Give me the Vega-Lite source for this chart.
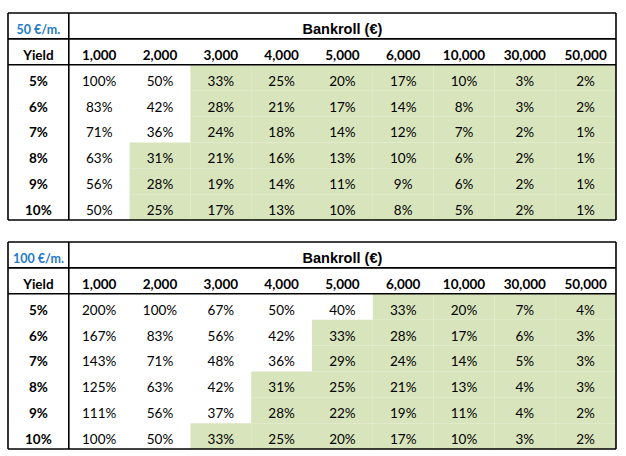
{
  "$schema": "https://vega.github.io/schema/vega-lite/v6.json",
  "padding": {"left": 7, "top": 12, "right": 0, "bottom": 0},
  "background": "#ffffff",
  "config": {"view": {"stroke": null}, "text": {"font": "Lato", "fontSize": 13.5, "color": "#000000"}},
  "spacing": 20,
  "datasets": {
    "t1": [
      {"y":"5%","b":"1,000","p":1.00},{"y":"5%","b":"2,000","p":0.50},{"y":"5%","b":"3,000","p":0.33},{"y":"5%","b":"4,000","p":0.25},{"y":"5%","b":"5,000","p":0.20},{"y":"5%","b":"6,000","p":0.17},{"y":"5%","b":"10,000","p":0.10},{"y":"5%","b":"30,000","p":0.03},{"y":"5%","b":"50,000","p":0.02},
      {"y":"6%","b":"1,000","p":0.83},{"y":"6%","b":"2,000","p":0.42},{"y":"6%","b":"3,000","p":0.28},{"y":"6%","b":"4,000","p":0.21},{"y":"6%","b":"5,000","p":0.17},{"y":"6%","b":"6,000","p":0.14},{"y":"6%","b":"10,000","p":0.08},{"y":"6%","b":"30,000","p":0.03},{"y":"6%","b":"50,000","p":0.02},
      {"y":"7%","b":"1,000","p":0.71},{"y":"7%","b":"2,000","p":0.36},{"y":"7%","b":"3,000","p":0.24},{"y":"7%","b":"4,000","p":0.18},{"y":"7%","b":"5,000","p":0.14},{"y":"7%","b":"6,000","p":0.12},{"y":"7%","b":"10,000","p":0.07},{"y":"7%","b":"30,000","p":0.02},{"y":"7%","b":"50,000","p":0.01},
      {"y":"8%","b":"1,000","p":0.63},{"y":"8%","b":"2,000","p":0.31},{"y":"8%","b":"3,000","p":0.21},{"y":"8%","b":"4,000","p":0.16},{"y":"8%","b":"5,000","p":0.13},{"y":"8%","b":"6,000","p":0.10},{"y":"8%","b":"10,000","p":0.06},{"y":"8%","b":"30,000","p":0.02},{"y":"8%","b":"50,000","p":0.01},
      {"y":"9%","b":"1,000","p":0.56},{"y":"9%","b":"2,000","p":0.28},{"y":"9%","b":"3,000","p":0.19},{"y":"9%","b":"4,000","p":0.14},{"y":"9%","b":"5,000","p":0.11},{"y":"9%","b":"6,000","p":0.09},{"y":"9%","b":"10,000","p":0.06},{"y":"9%","b":"30,000","p":0.02},{"y":"9%","b":"50,000","p":0.01},
      {"y":"10%","b":"1,000","p":0.50},{"y":"10%","b":"2,000","p":0.25},{"y":"10%","b":"3,000","p":0.17},{"y":"10%","b":"4,000","p":0.13},{"y":"10%","b":"5,000","p":0.10},{"y":"10%","b":"6,000","p":0.08},{"y":"10%","b":"10,000","p":0.05},{"y":"10%","b":"30,000","p":0.02},{"y":"10%","b":"50,000","p":0.01}
    ],
    "t2": [
      {"y":"5%","b":"1,000","p":2.00},{"y":"5%","b":"2,000","p":1.00},{"y":"5%","b":"3,000","p":0.67},{"y":"5%","b":"4,000","p":0.50},{"y":"5%","b":"5,000","p":0.40},{"y":"5%","b":"6,000","p":0.33},{"y":"5%","b":"10,000","p":0.20},{"y":"5%","b":"30,000","p":0.07},{"y":"5%","b":"50,000","p":0.04},
      {"y":"6%","b":"1,000","p":1.67},{"y":"6%","b":"2,000","p":0.83},{"y":"6%","b":"3,000","p":0.56},{"y":"6%","b":"4,000","p":0.42},{"y":"6%","b":"5,000","p":0.33},{"y":"6%","b":"6,000","p":0.28},{"y":"6%","b":"10,000","p":0.17},{"y":"6%","b":"30,000","p":0.06},{"y":"6%","b":"50,000","p":0.03},
      {"y":"7%","b":"1,000","p":1.43},{"y":"7%","b":"2,000","p":0.71},{"y":"7%","b":"3,000","p":0.48},{"y":"7%","b":"4,000","p":0.36},{"y":"7%","b":"5,000","p":0.29},{"y":"7%","b":"6,000","p":0.24},{"y":"7%","b":"10,000","p":0.14},{"y":"7%","b":"30,000","p":0.05},{"y":"7%","b":"50,000","p":0.03},
      {"y":"8%","b":"1,000","p":1.25},{"y":"8%","b":"2,000","p":0.63},{"y":"8%","b":"3,000","p":0.42},{"y":"8%","b":"4,000","p":0.31},{"y":"8%","b":"5,000","p":0.25},{"y":"8%","b":"6,000","p":0.21},{"y":"8%","b":"10,000","p":0.13},{"y":"8%","b":"30,000","p":0.04},{"y":"8%","b":"50,000","p":0.03},
      {"y":"9%","b":"1,000","p":1.11},{"y":"9%","b":"2,000","p":0.56},{"y":"9%","b":"3,000","p":0.37},{"y":"9%","b":"4,000","p":0.28},{"y":"9%","b":"5,000","p":0.22},{"y":"9%","b":"6,000","p":0.19},{"y":"9%","b":"10,000","p":0.11},{"y":"9%","b":"30,000","p":0.04},{"y":"9%","b":"50,000","p":0.02},
      {"y":"10%","b":"1,000","p":1.00},{"y":"10%","b":"2,000","p":0.50},{"y":"10%","b":"3,000","p":0.33},{"y":"10%","b":"4,000","p":0.25},{"y":"10%","b":"5,000","p":0.20},{"y":"10%","b":"6,000","p":0.17},{"y":"10%","b":"10,000","p":0.10},{"y":"10%","b":"30,000","p":0.03},{"y":"10%","b":"50,000","p":0.02}
    ],
    "hdr": [{"b":"Yield"},{"b":"1,000"},{"b":"2,000"},{"b":"3,000"},{"b":"4,000"},{"b":"5,000"},{"b":"6,000"},{"b":"10,000"},{"b":"30,000"},{"b":"50,000"}],
    "rows": [{"y":"5%"},{"y":"6%"},{"y":"7%"},{"y":"8%"},{"y":"9%"},{"y":"10%"}],
    "hl0": [{"y":"title"},{"y":"Yield"},{"y":"5%"}],
    "hl1": [{"y":"10%"}],
    "vl0": [{"b":"Yield"},{"b":"1,000"}],
    "vl1": [{"b":"50,000"}],
    "titles1": [{"b":"Yield","y":"title","t":"50 €/m."}],
    "titles2": [{"b":"Yield","y":"title","t":"100 €/m."}],
    "bank": [{"b":"5,000","y":"title","t":"Bankroll (€)"}]
  },
  "vconcat": [
    {
      "width": 608, "height": 207,
      "encoding": {
        "x": {"field": "b", "type": "ordinal", "axis": null, "scale": {"domain": ["Yield","1,000","2,000","3,000","4,000","5,000","6,000","10,000","30,000","50,000"], "paddingInner": 0, "paddingOuter": 0}},
        "y": {"field": "y", "type": "ordinal", "axis": null, "scale": {"domain": ["title","Yield","5%","6%","7%","8%","9%","10%"], "paddingInner": 0, "paddingOuter": 0}}
      },
      "layer": [
        {"data": {"name": "t1"}, "mark": {"type": "rect", "strokeWidth": 0}, "encoding": {"fill": {"condition": {"test": "datum.p <= 0.335", "value": "#D8E4BC"}, "value": "#ffffff"}}},
        {"data": {"name": "hl0"}, "mark": {"type": "rule", "color": "#000000", "strokeWidth": 1.6}, "encoding": {"x": null, "y": {"field": "y", "type": "ordinal", "bandPosition": 0}}},
        {"data": {"name": "hl1"}, "mark": {"type": "rule", "color": "#000000", "strokeWidth": 1.6}, "encoding": {"x": null, "y": {"field": "y", "type": "ordinal", "bandPosition": 1}}},
        {"data": {"name": "vl0"}, "mark": {"type": "rule", "color": "#000000", "strokeWidth": 1.6}, "encoding": {"y": null, "x": {"field": "b", "type": "ordinal", "bandPosition": 0}}},
        {"data": {"name": "vl1"}, "mark": {"type": "rule", "color": "#000000", "strokeWidth": 1.6}, "encoding": {"y": null, "x": {"field": "b", "type": "ordinal", "bandPosition": 1}}},
        {"data": {"name": "t1"}, "mark": {"type": "text", "dy": 4}, "encoding": {"text": {"field": "p", "type": "quantitative", "format": ".0%"}}},
        {"data": {"name": "hdr"}, "mark": {"type": "text", "dy": 4, "fontWeight": "bold"}, "encoding": {"y": {"datum": "Yield", "type": "ordinal"}, "text": {"field": "b"}}},
        {"data": {"name": "rows"}, "mark": {"type": "text", "dy": 4, "fontWeight": "bold"}, "encoding": {"x": {"datum": "Yield", "type": "ordinal"}, "text": {"field": "y"}}},
        {"data": {"name": "titles1"}, "mark": {"type": "text", "dy": 4, "fontWeight": "bold", "fontSize": 12.5, "color": "#1F7AC8"}, "encoding": {"text": {"field": "t"}}},
        {"data": {"name": "bank"}, "mark": {"type": "text", "dy": 4, "fontWeight": "bold", "font": "Liberation Sans", "fontSize": 14.5}, "encoding": {"text": {"field": "t"}}}
      ]
    },
    {
      "width": 608, "height": 207,
      "encoding": {
        "x": {"field": "b", "type": "ordinal", "axis": null, "scale": {"domain": ["Yield","1,000","2,000","3,000","4,000","5,000","6,000","10,000","30,000","50,000"], "paddingInner": 0, "paddingOuter": 0}},
        "y": {"field": "y", "type": "ordinal", "axis": null, "scale": {"domain": ["title","Yield","5%","6%","7%","8%","9%","10%"], "paddingInner": 0, "paddingOuter": 0}}
      },
      "layer": [
        {"data": {"name": "t2"}, "mark": {"type": "rect", "strokeWidth": 0}, "encoding": {"fill": {"condition": {"test": "datum.p <= 0.335", "value": "#D8E4BC"}, "value": "#ffffff"}}},
        {"data": {"name": "hl0"}, "mark": {"type": "rule", "color": "#000000", "strokeWidth": 1.6}, "encoding": {"x": null, "y": {"field": "y", "type": "ordinal", "bandPosition": 0}}},
        {"data": {"name": "hl1"}, "mark": {"type": "rule", "color": "#000000", "strokeWidth": 1.6}, "encoding": {"x": null, "y": {"field": "y", "type": "ordinal", "bandPosition": 1}}},
        {"data": {"name": "vl0"}, "mark": {"type": "rule", "color": "#000000", "strokeWidth": 1.6}, "encoding": {"y": null, "x": {"field": "b", "type": "ordinal", "bandPosition": 0}}},
        {"data": {"name": "vl1"}, "mark": {"type": "rule", "color": "#000000", "strokeWidth": 1.6}, "encoding": {"y": null, "x": {"field": "b", "type": "ordinal", "bandPosition": 1}}},
        {"data": {"name": "t2"}, "mark": {"type": "text", "dy": 4}, "encoding": {"text": {"field": "p", "type": "quantitative", "format": ".0%"}}},
        {"data": {"name": "hdr"}, "mark": {"type": "text", "dy": 4, "fontWeight": "bold"}, "encoding": {"y": {"datum": "Yield", "type": "ordinal"}, "text": {"field": "b"}}},
        {"data": {"name": "rows"}, "mark": {"type": "text", "dy": 4, "fontWeight": "bold"}, "encoding": {"x": {"datum": "Yield", "type": "ordinal"}, "text": {"field": "y"}}},
        {"data": {"name": "titles2"}, "mark": {"type": "text", "dy": 4, "fontWeight": "bold", "fontSize": 12.5, "color": "#1F7AC8"}, "encoding": {"text": {"field": "t"}}},
        {"data": {"name": "bank"}, "mark": {"type": "text", "dy": 4, "fontWeight": "bold", "font": "Liberation Sans", "fontSize": 14.5}, "encoding": {"text": {"field": "t"}}}
      ]
    }
  ]
}
